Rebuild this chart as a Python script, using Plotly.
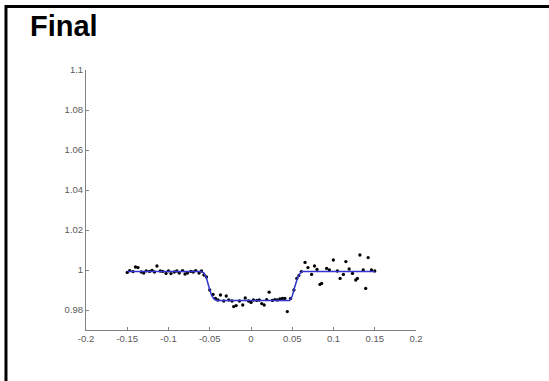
import plotly.graph_objects as go

# observed flux points
obs_x = [-0.150, -0.147, -0.143, -0.140, -0.137, -0.133, -0.130, -0.127, -0.123, -0.120,
         -0.117, -0.114, -0.110, -0.107, -0.103, -0.100, -0.097, -0.093, -0.090, -0.087,
         -0.083, -0.080, -0.077, -0.073, -0.070, -0.067, -0.063, -0.060, -0.057, -0.054,
         -0.050, -0.046, -0.043, -0.040, -0.037, -0.033, -0.030, -0.027, -0.023, -0.021,
         -0.018, -0.014, -0.010, -0.007, -0.003, 0.000, 0.003, 0.007, 0.010, 0.013,
         0.016, 0.019, 0.022, 0.026, 0.029, 0.032, 0.035, 0.038, 0.041, 0.044,
         0.048, 0.052, 0.0555, 0.058, 0.061, 0.0655, 0.069, 0.0735, 0.077, 0.080,
         0.0836, 0.0856, 0.0917, 0.095, 0.0998, 0.1047, 0.108, 0.112, 0.115, 0.119,
         0.123, 0.127, 0.129, 0.132, 0.136, 0.139, 0.142, 0.146, 0.150]
obs_y = [0.9988, 0.9997, 0.9992, 1.0015, 1.0012, 0.9990, 0.9985, 0.9996, 0.9993, 0.9998,
         0.9990, 1.0020, 0.9995, 0.9993, 0.9983, 0.9996, 0.9982, 0.9990, 0.9995, 0.9985,
         0.9997, 0.9980, 0.9985, 0.9993, 0.9990, 0.9997, 0.9985, 0.9995, 0.9975, 0.9965,
         0.9900, 0.9878, 0.9858, 0.9850, 0.9875, 0.9845, 0.9870, 0.9850, 0.9845, 0.9817,
         0.9822, 0.9845, 0.9825, 0.9860, 0.9845, 0.9838, 0.9850, 0.9848, 0.9850, 0.9832,
         0.9825, 0.9852, 0.9889, 0.9848, 0.9852, 0.9850, 0.9855, 0.9858, 0.9858, 0.9792,
         0.9858, 0.9900, 0.9958, 0.9972, 0.9992, 1.0038, 1.0012, 0.9978, 1.0020, 1.0003,
         0.9928, 0.9933, 1.0008, 1.0000, 1.0050, 0.9995, 0.9958, 0.9978, 1.0042, 1.0005,
         0.9983, 0.9950, 0.9958, 1.0075, 1.0000, 0.9908, 1.0062, 1.0000, 0.9995]

# fitted model curve
model_x = [-0.150, -0.060, -0.057, -0.054, -0.051, -0.048, -0.045, -0.042,
           0.047, 0.050, 0.053, 0.056, 0.059, 0.062, 0.150]
model_y = [0.9992, 0.9992, 0.9985, 0.9960, 0.9915, 0.9875, 0.9855, 0.9848,
           0.9848, 0.9870, 0.9915, 0.9955, 0.9982, 0.9992, 0.9992]

x_tickvals = [-0.2, -0.15, -0.1, -0.05, 0, 0.05, 0.1, 0.15, 0.2]
x_ticktext = ["-0.2", "-0.15", "-0.1", "-0.05", "0", "0.05", "0.1", "0.15", "0.2"]
y_tickvals = [0.98, 1.0, 1.02, 1.04, 1.06, 1.08, 1.1]
y_ticktext = ["0.98", "1", "1.02", "1.04", "1.06", "1.08", "1.1"]

title_text = "Final"

fig = go.Figure()
fig.add_trace(go.Scatter(x=obs_x, y=obs_y, mode="markers",
                         marker=dict(color="black", size=3.3, line=dict(width=0))))
fig.add_trace(go.Scatter(x=model_x, y=model_y, mode="lines",
                         line=dict(color="#3434d0", width=1.5), hoverinfo="skip"))

axis_common = dict(showline=True, linecolor="#808080", linewidth=1, ticks="inside",
                   ticklen=3, tickcolor="#808080", showgrid=False, zeroline=False,
                   tickfont=dict(family="Liberation Sans, Arial", size=9.5, color="#5a5a5a"))

fig.update_layout(
    width=549, height=381,
    margin=dict(l=86, r=133, t=70, b=51),
    paper_bgcolor="white", plot_bgcolor="white",
    showlegend=False,
    xaxis=dict(range=[-0.2, 0.2], tickmode="array", tickvals=x_tickvals,
               ticktext=x_ticktext, **axis_common),
    yaxis=dict(range=[0.97, 1.1], tickmode="array", tickvals=y_tickvals,
               ticktext=y_ticktext, **axis_common),
    annotations=[dict(text="<b>" + title_text + "</b>", xref="paper", yref="paper",
                      x=-0.176, y=1.17, xanchor="left", yanchor="middle",
                      showarrow=False,
                      font=dict(family="Liberation Sans, Arial", size=29, color="black"))],
    shapes=[
        dict(type="line", xref="paper", yref="paper", x0=-0.245, x1=1.45,
             y0=1.244, y1=1.244, line=dict(color="black", width=3)),
        dict(type="line", xref="paper", yref="paper", x0=-0.2425, x1=-0.2425,
             y0=1.25, y1=-0.25, line=dict(color="black", width=3)),
    ],
)

fig.write_html("out.html", config={"displayModeBar": False},
               post_script="document.body.style.margin='0px';document.body.style.padding='0px';")
